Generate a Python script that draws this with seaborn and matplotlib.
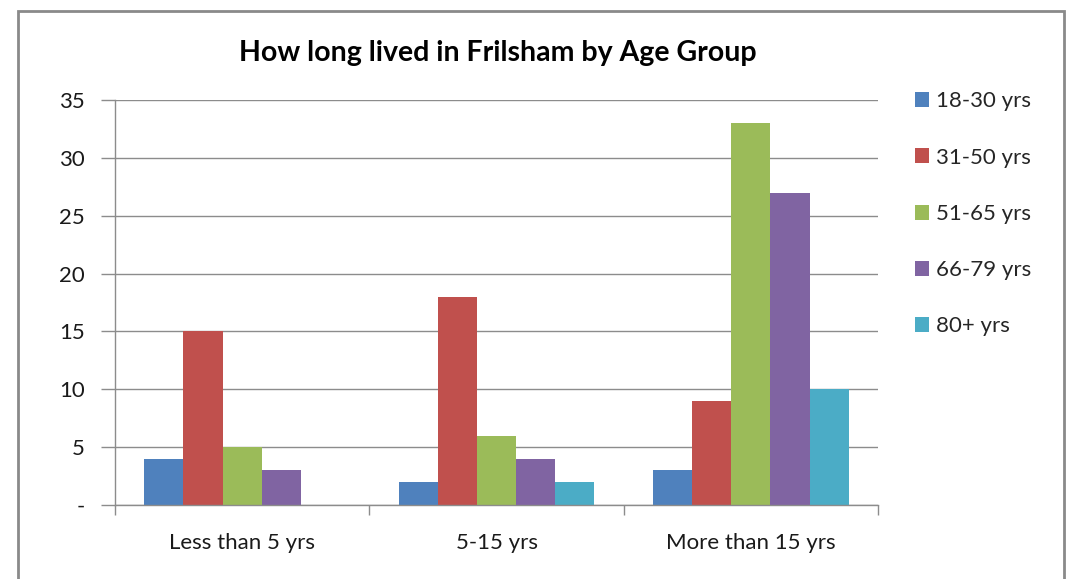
import pandas as pd
import seaborn as sns
import matplotlib.pyplot as plt
from matplotlib.patches import Rectangle

# данные с картинки
categories = ["Less than 5 yrs", "5-15 yrs", "More than 15 yrs"]
age_groups = ["18-30 yrs", "31-50 yrs", "51-65 yrs", "66-79 yrs", "80+ yrs"]
v_18_30 = [4, 2, 3]
v_31_50 = [15, 18, 9]
v_51_65 = [5, 6, 33]
v_66_79 = [3, 4, 27]
v_80_plus = [0, 2, 10]
colors = ["#4F81BD", "#C0504D", "#9BBB59", "#8064A2", "#4BACC6"]

series = [v_18_30, v_31_50, v_51_65, v_66_79, v_80_plus]
rows = []
for grp, vals in zip(age_groups, series):
    for cat, v in zip(categories, vals):
        rows.append({"cat": cat, "age": grp, "n": v})
df = pd.DataFrame(rows)

sns.set_theme(style="white")
plt.rcParams["font.family"] = ["Lato", "DejaVu Sans"]
grid_c = "#8c8c8c"
fs = 16

fig = plt.figure(figsize=(10.7, 5.79), dpi=100)
ax = fig.add_axes([0.1075, 0.1278, 0.7131, 0.6995])

sns.barplot(data=df, x="cat", y="n", hue="age", order=categories,
            hue_order=age_groups, palette=colors, width=0.77,
            saturation=1, ax=ax, edgecolor="none", linewidth=0)

ax.set_xlim(-0.5, 2.5)
ax.set_ylim(0, 35)
ax.set_yticks(range(0, 36, 5))
ax.set_yticklabels(["-"] + [str(v) for v in range(5, 36, 5)], fontsize=fs, color="#1a1a1a")
ax.yaxis.grid(True, color=grid_c, linewidth=1)
ax.set_axisbelow(True)
ax.tick_params(axis="y", length=10, color=grid_c, width=1, pad=12, left=True)
ax.set_xticks([0, 1, 2])
ax.set_xticklabels(categories, fontsize=fs, color="#1a1a1a")
ax.set_xticks([-0.5, 0.5, 1.5, 2.5], minor=True)
ax.tick_params(axis="x", which="major", length=0, pad=20)
ax.tick_params(axis="x", which="minor", length=7, color=grid_c, width=1, bottom=True)
ax.set_xlabel("")
ax.set_ylabel("")
for s in ["top", "right"]:
    ax.spines[s].set_visible(False)
for s in ["left", "bottom"]:
    ax.spines[s].set_color(grid_c)
    ax.spines[s].set_linewidth(1)

fig.text(0.465, 0.908, "How long lived in Frilsham by Age Group", ha="center",
         va="center", fontsize=20.5, fontweight="bold", color="black")

handles, labels = ax.get_legend_handles_labels()
ax.legend(handles, labels, loc="upper left", bbox_to_anchor=(0.855, 0.842),
          bbox_transform=fig.transFigure, frameon=False, fontsize=fs,
          handlelength=0.65, handleheight=0.65, handletextpad=0.3,
          labelspacing=1.63, borderpad=0, borderaxespad=0)

# рамка вокруг диаграммы
fig.patches.append(Rectangle((18 / 1070, -0.02), (1064 - 18) / 1070, 1.0 - 11 / 579 + 0.02,
                             transform=fig.transFigure, fill=False,
                             edgecolor="#8a8a8a", linewidth=2))

fig.savefig("out.png", dpi=100)
